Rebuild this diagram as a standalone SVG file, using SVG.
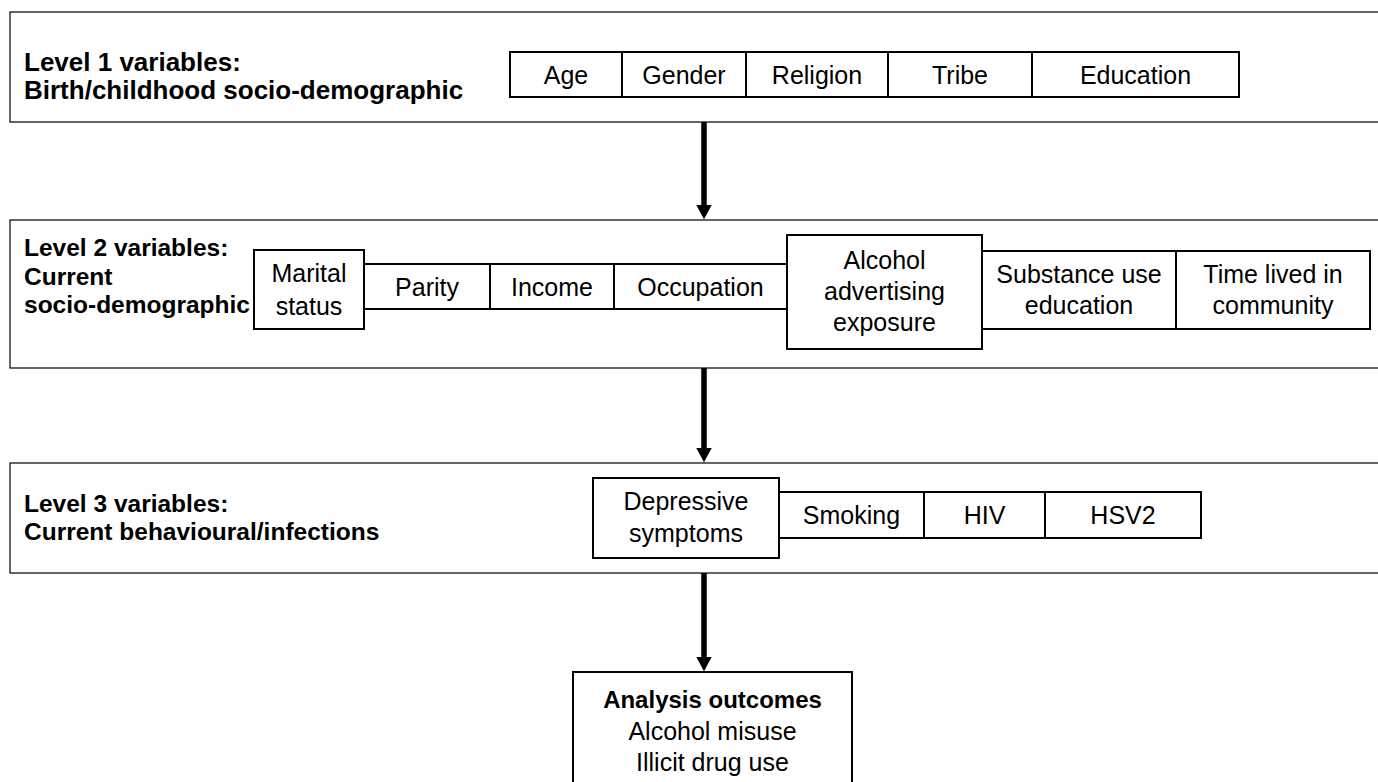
<svg xmlns="http://www.w3.org/2000/svg" width="1378" height="782" viewBox="0 0 1378 782">
<style>
.panel{fill:#fff;stroke:#000;stroke-width:1.2}
.box{fill:#fff;stroke:#000;stroke-width:2}
.t{font-family:"Liberation Sans",Arial,sans-serif;font-size:25px;fill:#000;text-anchor:middle}
.h{font-family:"Liberation Sans",Arial,sans-serif;font-size:24.5px;font-weight:bold;fill:#000}
.h1{font-size:26px}
.b{font-weight:bold;font-size:24px}
.arr{stroke:#000;stroke-width:5.5;fill:none}
</style>
<defs>
<marker id="ah" markerWidth="3" markerHeight="3" refX="0" refY="1.4" orient="auto" markerUnits="strokeWidth">
<path d="M0,0 L2.6,1.4 L0,2.8 Z" fill="#000"/>
</marker>
</defs>
<rect width="1378" height="782" fill="#fff"/>
<g id="panel1">
<rect class="panel" x="10" y="12" width="1390" height="110"/>
<text class="h h1" x="24" y="71">Level 1 variables:</text>
<text class="h h1" x="24" y="99">Birth/childhood socio-demographic</text>
</g>
<g id="level1-vars">
<g id="age"><rect class="box" x="510" y="52" width="112" height="45"/><text class="t" x="566" y="84">Age</text></g>
<g id="gender"><rect class="box" x="622" y="52" width="124" height="45"/><text class="t" x="684" y="84">Gender</text></g>
<g id="religion"><rect class="box" x="746" y="52" width="142" height="45"/><text class="t" x="817" y="84">Religion</text></g>
<g id="tribe"><rect class="box" x="888" y="52" width="144" height="45"/><text class="t" x="960" y="84">Tribe</text></g>
<g id="education"><rect class="box" x="1032" y="52" width="207" height="45"/><text class="t" x="1135.5" y="84">Education</text></g>
</g>
<g id="panel2">
<rect class="panel" x="10" y="220" width="1390" height="148"/>
<text class="h" x="24" y="256">Level 2 variables:</text>
<text class="h" x="24" y="285">Current</text>
<text class="h" x="24" y="313">socio-demographic</text>
</g>
<g id="level2-vars">
<g id="parity"><rect class="box" x="364" y="264" width="126" height="45"/><text class="t" x="427" y="296">Parity</text></g>
<g id="income"><rect class="box" x="490" y="264" width="124" height="45"/><text class="t" x="552" y="296">Income</text></g>
<g id="occupation"><rect class="box" x="614" y="264" width="173" height="45"/><text class="t" x="700.5" y="296">Occupation</text></g>
<g id="marital"><rect class="box" x="254" y="250" width="110" height="79"/><text class="t" x="309" y="282">Marital</text><text class="t" x="309" y="315">status</text></g>
<g id="alcohol-adv"><rect class="box" x="787" y="235" width="195" height="114"/><text class="t" x="884.5" y="269">Alcohol</text><text class="t" x="884.5" y="300">advertising</text><text class="t" x="884.5" y="331">exposure</text></g>
<g id="substance"><rect class="box" x="982" y="251" width="194" height="78"/><text class="t" x="1079" y="283">Substance use</text><text class="t" x="1079" y="314">education</text></g>
<g id="time-lived"><rect class="box" x="1176" y="251" width="194" height="78"/><text class="t" x="1273" y="283">Time lived in</text><text class="t" x="1273" y="314">community</text></g>
</g>
<g id="panel3">
<rect class="panel" x="10" y="463" width="1390" height="110"/>
<text class="h" x="24" y="512">Level 3 variables:</text>
<text class="h" x="24" y="540">Current behavioural/infections</text>
</g>
<g id="level3-vars">
<g id="smoking"><rect class="box" x="779" y="492" width="145" height="46"/><text class="t" x="851.5" y="524">Smoking</text></g>
<g id="hiv"><rect class="box" x="924" y="492" width="121" height="46"/><text class="t" x="984.5" y="524">HIV</text></g>
<g id="hsv2"><rect class="box" x="1045" y="492" width="156" height="46"/><text class="t" x="1123" y="524">HSV2</text></g>
<g id="depressive"><rect class="box" x="593" y="478" width="186" height="80"/><text class="t" x="686" y="510">Depressive</text><text class="t" x="686" y="542">symptoms</text></g>
</g>
<g id="outcomes">
<rect class="box" x="573" y="672" width="279" height="140"/>
<text class="t b" x="712.5" y="708">Analysis outcomes</text>
<text class="t" x="712.5" y="740">Alcohol misuse</text>
<text class="t" x="712.5" y="771">Illicit drug use</text>
</g>
<g id="connectors">
<line class="arr" x1="704" y1="122" x2="704" y2="205" marker-end="url(#ah)"/>
<line class="arr" x1="704" y1="368" x2="704" y2="448" marker-end="url(#ah)"/>
<line class="arr" x1="704" y1="573" x2="704" y2="657" marker-end="url(#ah)"/>
</g>
</svg>
